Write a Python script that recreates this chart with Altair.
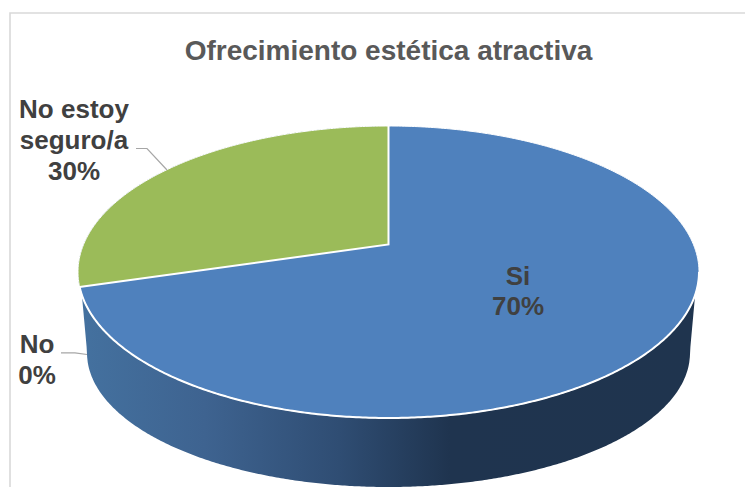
import math
import altair as alt
import pandas as pd

# --- data -------------------------------------------------------------
categories = ["Si", "No", "No estoy seguro/a"]
values = [70.4, 0.0, 29.6]          # shown rounded as 70 %, 0 %, 30 %
label_lines = [["Si", "70%"], ["No", "0%"], ["No estoy", "seguro/a", "30%"]]
title_text = "Ofrecimiento estética atractiva"

# --- drawing geometry (page pixels, used as the scale domain) ----------
W, H = 745, 487
CX, CY, A, B = 388.5, 272.0, 310.5, 146.0      # rim ellipse of the top face
APEX_Y = 244.5                                 # pie centre seen in perspective
K = 0.192                                      # perspective strength
DEPTH_Y, DEPTH_A, DEPTH_B = 353.0, 301.5, 134.0  # lower ellipse of the wall
WALL_TOP_Y = 295.0

xs = alt.X("x:Q", axis=None, scale=alt.Scale(domain=[8, W], nice=False, zero=False))
ys = alt.Y("y:Q", axis=None, scale=alt.Scale(domain=[H, 8], nice=False, zero=False))


def rim_point(share):
    """Point of the top rim reached going counter-clockwise from 12 o'clock."""
    ang = 2 * math.pi * share / 100
    u, v = -math.sin(ang), math.cos(ang)
    w = 1 + K * v
    return CX + A * math.sqrt(1 - K * K) * u / w, APEX_Y - 140.6 * v / w


def half(x, a, b):
    return b * math.sqrt(max(0.0, 1 - ((x - CX) / a) ** 2))


def ellipse_xs(n=400):
    return [CX - A * math.cos(math.pi * i / n) for i in range(n + 1)]


top_rows = [{"x": x, "y": CY - half(x, A, B), "y2": CY + half(x, A, B)} for x in ellipse_xs()]

bx, by = rim_point(values[2])
green_rows = []
for i in range(401):
    x = CX - A * math.cos(math.pi / 2 * i / 400)
    line_y = APEX_Y + (by - APEX_Y) * (CX - x) / (CX - bx)
    green_rows.append({"x": x, "y": CY - half(x, A, B), "y2": min(line_y, CY + half(x, A, B))})

wall_left = CX - A * math.sqrt(1 - ((WALL_TOP_Y - CY) / B) ** 2)
wall_foot = CX - DEPTH_A * 0.9995
wall_rows = []
for x in ellipse_xs():
    if x < wall_left or x > 2 * CX - wall_left:
        continue
    off = CX - abs(x - CX)
    if off < wall_foot:
        low = WALL_TOP_Y + (DEPTH_Y - WALL_TOP_Y) * (off - wall_left) / (wall_foot - wall_left)
    else:
        low = DEPTH_Y + half(x, DEPTH_A, DEPTH_B)
    wall_rows.append({"x": x, "y": CY + half(x, A, B), "y2": low})

rim_rows = []
n = 600
for i in range(n + 1):
    t = 2 * math.pi * i / n
    rim_rows.append({"i": i, "x": CX + A * math.cos(t), "y": CY + B * math.sin(t)})
front_rows = [r for r in rim_rows if r["y"] >= by or (r["x"] > CX and r["y"] >= CY)]
front_rows = sorted(front_rows, key=lambda r: r["x"])
edge_rows = [
    {"i": 0, "x": CX, "y": CY - B},
    {"i": 1, "x": CX, "y": APEX_Y},
    {"i": 2, "x": bx, "y": by},
]

lead1 = [{"i": 0, "x": 136, "y": 148.5}, {"i": 1, "x": 147, "y": 148.5}, {"i": 2, "x": 167, "y": 170}]
lead2 = [{"i": 0, "x": 61, "y": 352.8}, {"i": 1, "x": 75, "y": 352.8}, {"i": 2, "x": 87, "y": 354.5}]

anchors = {"Si": (518, [285, 315]), "No": (37, [353, 384]), "No estoy seguro/a": (74, [118, 149, 180])}
text_rows = []
for cat, lines in zip(categories, label_lines):
    ax, ay = anchors[cat]
    for line, y in zip(lines, ay):
        text_rows.append({"x": ax, "y": y, "t": line})


def df(rows):
    return pd.DataFrame(rows)


wall = alt.Chart(df(wall_rows)).mark_area(
    clip=True,
    color=alt.Gradient(
        gradient="linear", x1=0, x2=1, y1=0, y2=0,
        stops=[
            alt.GradientStop(offset=0.0, color="#44719f"),
            alt.GradientStop(offset=0.2, color="#3e6390"),
            alt.GradientStop(offset=0.42, color="#2f4d73"),
            alt.GradientStop(offset=0.6, color="#1f344f"),
            alt.GradientStop(offset=1.0, color="#1f344e"),
        ],
    )
).encode(x=xs, y=ys, y2="y2:Q")

top = alt.Chart(df(top_rows)).mark_area(color="#4f81bd").encode(x=xs, y=ys, y2="y2:Q")
green = alt.Chart(df(green_rows)).mark_area(color="#9bbb59").encode(x=xs, y=ys, y2="y2:Q")


def poly(rows, color, width):
    return alt.Chart(df(rows)).mark_line(color=color, strokeWidth=width, interpolate="linear", clip=True).encode(
        x=xs, y=ys, order=alt.Order("i:Q")
    )


rim = poly(rim_rows, "#ffffff", 1)
front = alt.Chart(df(front_rows)).mark_line(color="#ffffff", strokeWidth=2).encode(x=xs, y=ys, order=alt.Order("x:Q"))
edges = poly(edge_rows, "#ffffff", 2)
l1 = poly(lead1, "#a6a6a6", 1.2)
l2 = poly(lead2, "#a6a6a6", 1.2)

border = poly([{"i": 0, "x": 10, "y": H}, {"i": 1, "x": 10, "y": 13}, {"i": 2, "x": W, "y": 13}], "#d9d9d9", 1.6)

labels = alt.Chart(df(text_rows)).mark_text(
    font="Liberation Sans", fontWeight="bold", fontSize=26, color="#404040", align="center", baseline="alphabetic"
).encode(x=xs, y=ys, text="t:N")

title = alt.Chart(df([{"x": 388.5, "y": 60, "t": title_text}])).mark_text(
    font="Liberation Sans", fontWeight="bold", fontSize=28, color="#595959", align="center", baseline="alphabetic"
).encode(x=xs, y=ys, text="t:N")

chart = (
    alt.layer(border, wall, top, green, rim, front, edges, l1, l2, labels, title)
    .properties(width=W - 8, height=H - 8, padding=0, background="#ffffff",
                autosize=alt.AutoSizeParams(type="none", contains="padding"))
    .configure_view(stroke=None)
)
chart.save("out.html", embed_options={"renderer": "svg", "actions": False})
